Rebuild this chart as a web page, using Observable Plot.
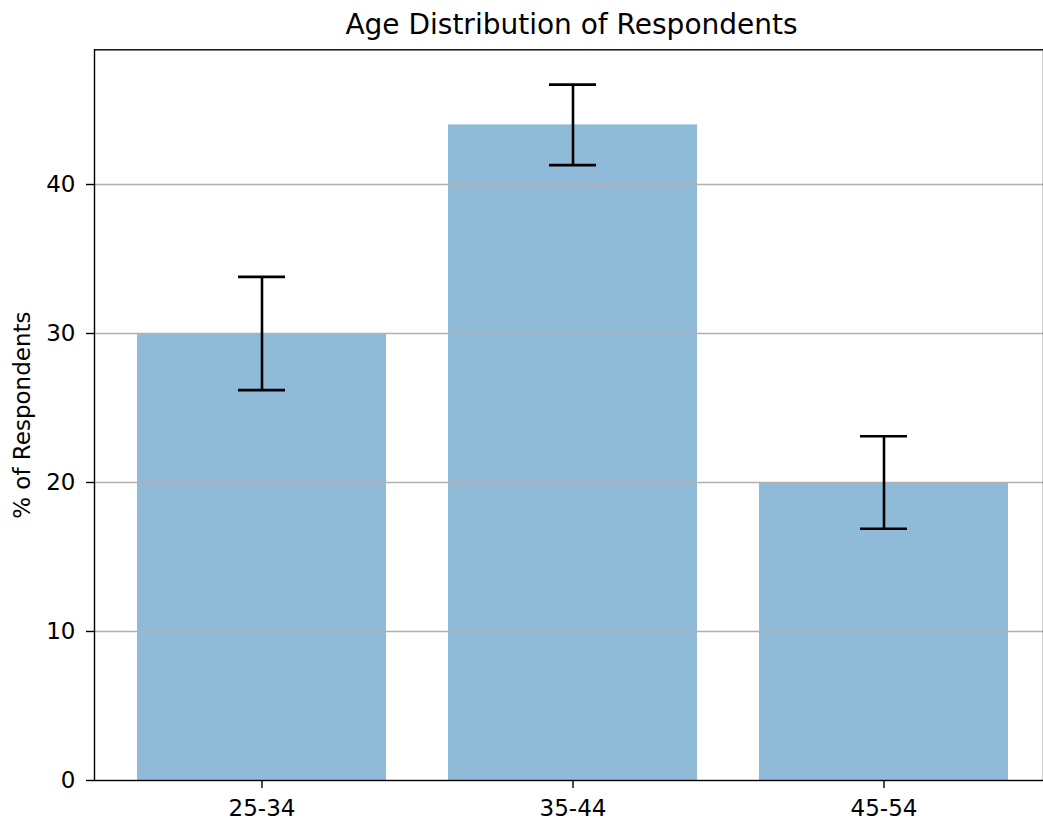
<!DOCTYPE html>
<html>
<head>
<meta charset="utf-8">
<script src="https://cdn.jsdelivr.net/npm/d3@7"></script>
<script src="https://cdn.jsdelivr.net/npm/@observablehq/plot@0.6"></script>
<style>
  body { margin: 0; overflow: hidden; background: white; font-family: "DejaVu Sans", sans-serif; }
  #title { width: 1043px; height: 44px; box-sizing: border-box; padding-top: 11px; padding-left: 100px; line-height: 28px; font-size: 28px; text-align: center; color: #000; }
  svg { overflow: hidden; }
</style>
</head>
<body>
<div id="title">Age Distribution of Respondents</div>
<div id="chart"></div>
<script>
const categories = ["25-34", "35-44", "45-54"];
const values = [30, 44, 20];
const errors = [3.8, 2.7, 3.1];
const yTicks = [0, 10, 20, 30, 40];

const data = categories.map((c, i) => ({cat: c, value: values[i], err: errors[i]}));

const chart = Plot.plot({
  width: 1043,
  height: 776,
  marginTop: 5.3,
  marginBottom: 40,
  marginLeft: 94,
  marginRight: 0,
  style: {fontFamily: "DejaVu Sans", fontSize: "23px", color: "#000", background: "white", overflow: "hidden"},
  x: {type: "band", domain: categories, range: [92.8, 1052.2], paddingInner: 0.2, paddingOuter: 0.14, align: 0.5, label: null},
  y: {domain: [0, 49.04], label: null},
  marks: [
    Plot.barY(data, {x: "cat", y: "value", fill: "#1f77b4", fillOpacity: 0.5}),
    Plot.gridY(yTicks.filter(d => d > 0), {stroke: "#b0b0b0", strokeOpacity: 1, strokeWidth: 1.3}),
    Plot.ruleX(data, {x: "cat", y1: d => d.value - d.err, y2: d => d.value + d.err, stroke: "#000", strokeWidth: 2.6}),
    Plot.tickY(data, {x: "cat", y: d => d.value - d.err, stroke: "#000", strokeWidth: 2.6, insetLeft: 101, insetRight: 101}),
    Plot.tickY(data, {x: "cat", y: d => d.value + d.err, stroke: "#000", strokeWidth: 2.6, insetLeft: 101, insetRight: 101}),
    Plot.frame({stroke: "#000", strokeWidth: 1.4}),
    Plot.axisY({ticks: yTicks, tickSize: 8, tickPadding: 11, fontSize: 23, stroke: "#000", strokeWidth: 1.4,
      label: "% of Respondents", labelAnchor: "center", labelArrow: "none", labelOffset: 81}),
    Plot.axisX({tickSize: 8, tickPadding: 11, fontSize: 23, stroke: "#000", strokeWidth: 1.4, label: null})
  ]
});
document.getElementById("chart").appendChild(chart);
</script>
</body>
</html>
